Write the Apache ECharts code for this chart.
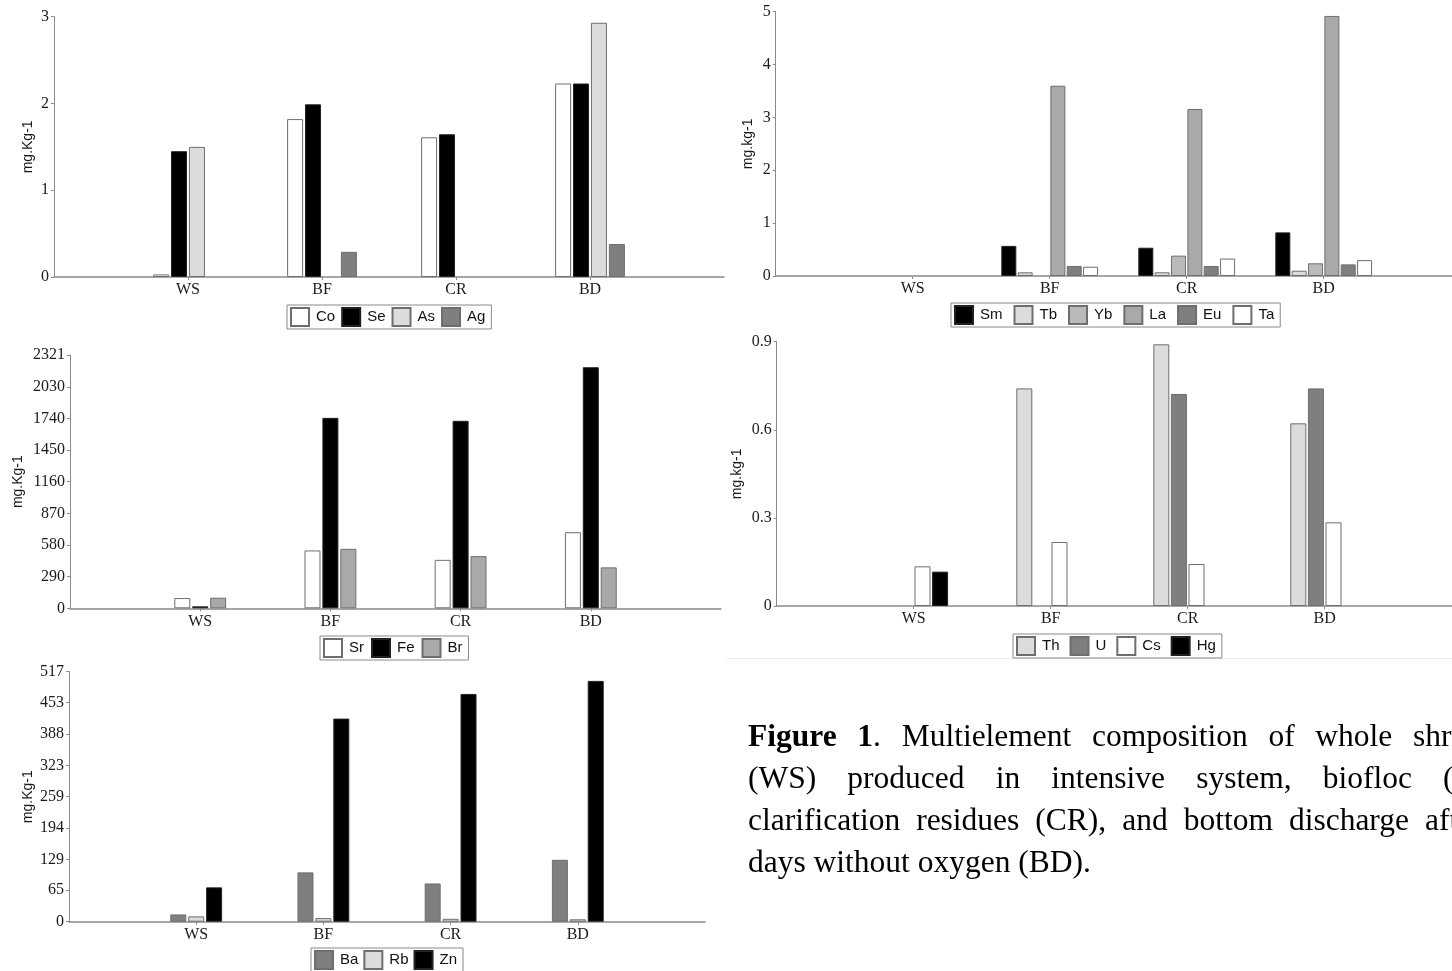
<!DOCTYPE html>
<html><head><meta charset="utf-8">
<script src="https://cdn.jsdelivr.net/npm/echarts@6/dist/echarts.min.js"></script>
<style>html,body{margin:0;padding:0;background:#fff;overflow:hidden}#c{width:1452px;height:971px}</style>
</head><body><div id="c"></div>
<script>
// ---------- DATA ----------
const categories = ['WS', 'BF', 'CR', 'BD'];

// Panel A (top-left)
const coValues = [0.03, 1.82, 1.61, 2.23];
const seValues = [1.45, 1.99, 1.645, 2.23];
const asValues = [1.50, null, null, 2.93];
const agValues = [null, 0.29, null, 0.38];
const panelATicks = [0, 1, 2, 3];

// Panel B (top-right)
const smValues = [null, 0.57, 0.535, 0.825];
const tbValues = [null, 0.07, 0.07, 0.10];
const ybValues = [null, null, 0.385, 0.24];
const laValues = [null, 3.60, 3.16, 4.92];
const euValues = [null, 0.19, 0.19, 0.22];
const taValues = [null, 0.175, 0.33, 0.30];
const panelBTicks = [0, 1, 2, 3, 4, 5];

// Panel C (middle-left)
const srValues = [94, 530, 444, 697];
const feValues = [18, 1745, 1718, 2209];
const brValues = [97, 545, 478, 375];
const panelCTicks = [0, 290, 580, 870, 1160, 1450, 1740, 2030, 2321];

// Panel D (middle-right)
const thValues = [null, 0.741, 0.891, 0.622];
const uValues = [null, null, 0.722, 0.741];
const csValues = [0.135, 0.218, 0.143, 0.285];
const hgValues = [0.117, null, null, null];
const panelDTicks = [0, 0.3, 0.6, 0.9];

// Panel E (bottom-left)
const baValues = [15, 102, 79, 128];
const rbValues = [11, 7.5, 6, 5];
const znValues = [71, 420, 471, 498];
const panelETicks = [0, 65, 129, 194, 259, 323, 388, 453, 517];

// Caption (each word = list of [text, bold] segments)
const captionLines = [
  [[['Figure', true]], [['1', true], ['.', false]], [['Multielement', false]], [['composition', false]], [['of', false]], [['whole', false]], [['shrimp', false]]],
  [[['(WS)', false]], [['produced', false]], [['in', false]], [['intensive', false]], [['system,', false]], [['biofloc', false]], [['(BF),', false]]],
  [[['clarification', false]], [['residues', false]], [['(CR),', false]], [['and', false]], [['bottom', false]], [['discharge', false]], [['after', false]]],
  [[['days without oxygen (BD).', false]]]
];

// ---------- LAYOUT / STYLE ----------
const WHITE = '#ffffff', BLACK = '#000000', LIGHT = '#dcdcdc', MID = '#bababa', MID2 = '#a9a9a9', DARK = '#7f7f7f';
const panels = [
  { grid: {left: 54, top: 16.7, width: 670, height: 260.3}, legend: {left: 287, top: 305, gap: 6},
    yName: 'mg.Kg-1', nameGap: 19, max: 3, ticks: panelATicks, barWidth: 16, barGap: '12%',
    series: [['Co', coValues, WHITE], ['Se', seValues, BLACK], ['As', asValues, LIGHT], ['Ag', agValues, DARK]] },
  { grid: {left: 775.7, top: 11.7, width: 685, height: 264.3}, legend: {left: 951, top: 303, gap: 11},
    yName: 'mg.kg-1', nameGap: 21, max: 5, ticks: panelBTicks, barWidth: 15, barGap: '9%',
    series: [['Sm', smValues, BLACK], ['Tb', tbValues, LIGHT], ['Yb', ybValues, MID], ['La', laValues, MID2], ['Eu', euValues, DARK], ['Ta', taValues, WHITE]] },
  { grid: {left: 70, top: 355, width: 651, height: 253.3}, legend: {left: 320, top: 636, gap: 7},
    yName: 'mg.Kg-1', nameGap: 45, max: 2321, ticks: panelCTicks, barWidth: 16, barGap: '12%',
    series: [['Sr', srValues, WHITE], ['Fe', feValues, BLACK], ['Br', brValues, MID2]] },
  { grid: {left: 776.7, top: 341.7, width: 685, height: 264.3}, legend: {left: 1013, top: 634, gap: 10},
    yName: 'mg.kg-1', nameGap: 33, max: 0.9, ticks: panelDTicks, barWidth: 16, barGap: '10%',
    series: [['Th', thValues, LIGHT], ['U', uValues, DARK], ['Cs', csValues, WHITE], ['Hg', hgValues, BLACK]] },
  { grid: {left: 69, top: 671.7, width: 636, height: 250}, legend: {left: 311, top: 948, gap: 5},
    yName: 'mg.Kg-1', nameGap: 34, max: 517, ticks: panelETicks, barWidth: 16, barGap: '12%',
    series: [['Ba', baValues, DARK], ['Rb', rbValues, LIGHT], ['Zn', znValues, BLACK]] }
];

const AXIS = '#8a8a8a', TEXT = '#1a1a1a';
const SERIF = '"Liberation Serif", "Times New Roman", serif';
const SANS = '"Liberation Sans", Arial, sans-serif';
const xData = [''].concat(categories, ['']);

const option = {
  animation: false,
  backgroundColor: '#ffffff',
  grid: [], xAxis: [], yAxis: [], legend: [], series: [], graphic: []
};

panels.forEach((p, i) => {
  option.grid.push(Object.assign({outerBoundsMode: 'none', containLabel: false}, p.grid));
  option.xAxis.push({
    type: 'category', gridIndex: i, data: xData, boundaryGap: false,
    axisLine: {show: true, lineStyle: {color: AXIS, width: 1.5}},
    axisTick: {show: true, length: 3, interval: (idx, val) => val !== '', lineStyle: {color: AXIS}},
    axisLabel: {interval: 0, fontFamily: SERIF, fontSize: 16, color: TEXT, margin: 5},
    splitLine: {show: false}
  });
  option.yAxis.push({
    type: 'value', gridIndex: i, min: 0, max: p.max,
    name: p.yName, nameLocation: 'middle', nameGap: p.nameGap,
    nameTextStyle: {fontFamily: SANS, fontSize: 14, color: TEXT},
    axisLine: {show: true, lineStyle: {color: AXIS, width: 1}},
    axisTick: {show: true, length: 3, customValues: p.ticks, lineStyle: {color: AXIS}},
    axisLabel: {customValues: p.ticks, formatter: v => String(v), fontFamily: SERIF, fontSize: 16, color: TEXT, margin: 5},
    splitLine: {show: false}
  });
  option.legend.push({
    data: p.series.map(s => s[0]), left: p.legend.left, top: p.legend.top,
    orient: 'horizontal', icon: 'rect', itemWidth: 18, itemHeight: 18, itemGap: p.legend.gap,
    padding: [2, 6, 2, 3], borderColor: AXIS, borderWidth: 1, selectedMode: false,
    textStyle: {fontFamily: SANS, fontSize: 15, color: '#111', padding: [0, 0, 0, 2]}
  });
  p.series.forEach(s => {
    option.series.push({
      type: 'bar', name: s[0], xAxisIndex: i, yAxisIndex: i,
      data: [null].concat(s[1], [null]),
      barWidth: p.barWidth, barGap: p.barGap,
      itemStyle: {color: s[2], borderColor: s[2] === BLACK ? '#222' : '#6e6e6e', borderWidth: 1},
      emphasis: {disabled: true}
    });
  });
});

// caption: justified lines (first word at captionLeft, last word at lastWordX)
const CAP_SIZE = 31.5;
const capFont = b => (b ? 'bold ' : '') + CAP_SIZE + 'px "Liberation Serif"';
const mctx = document.createElement('canvas').getContext('2d');
const segW = seg => { mctx.font = capFont(seg[1]); return mctx.measureText(seg[0]).width; };
const wordW = word => word.reduce((a, s) => a + segW(s), 0);
const captionLeft = 748;
const lastWordX = [1413, 1443, 1425, null];
const captionY = [738, 780, 822, 864];
captionLines.forEach((line, li) => {
  let gap = 0;
  if (lastWordX[li] !== null && line.length > 1) {
    const used = line.slice(0, -1).reduce((a, w) => a + wordW(w), 0);
    gap = (lastWordX[li] - captionLeft - used) / (line.length - 1);
  }
  let x = captionLeft;
  line.forEach(word => {
    word.forEach(seg => {
      option.graphic.push({
        type: 'text', x: x, y: captionY[li],
        style: {text: seg[0], font: capFont(seg[1]), fill: '#000', verticalAlign: 'middle', align: 'left'}
      });
      x += segW(seg);
    });
    x += gap;
  });
});
option.graphic.push({type: 'line', shape: {x1: 725, y1: 658.5, x2: 1452, y2: 658.5}, style: {stroke: '#ececec', lineWidth: 1}, z: -1});

const chart = echarts.init(document.getElementById('c'), null, {renderer: 'canvas'});
chart.setOption(option);
</script>
</body></html>
